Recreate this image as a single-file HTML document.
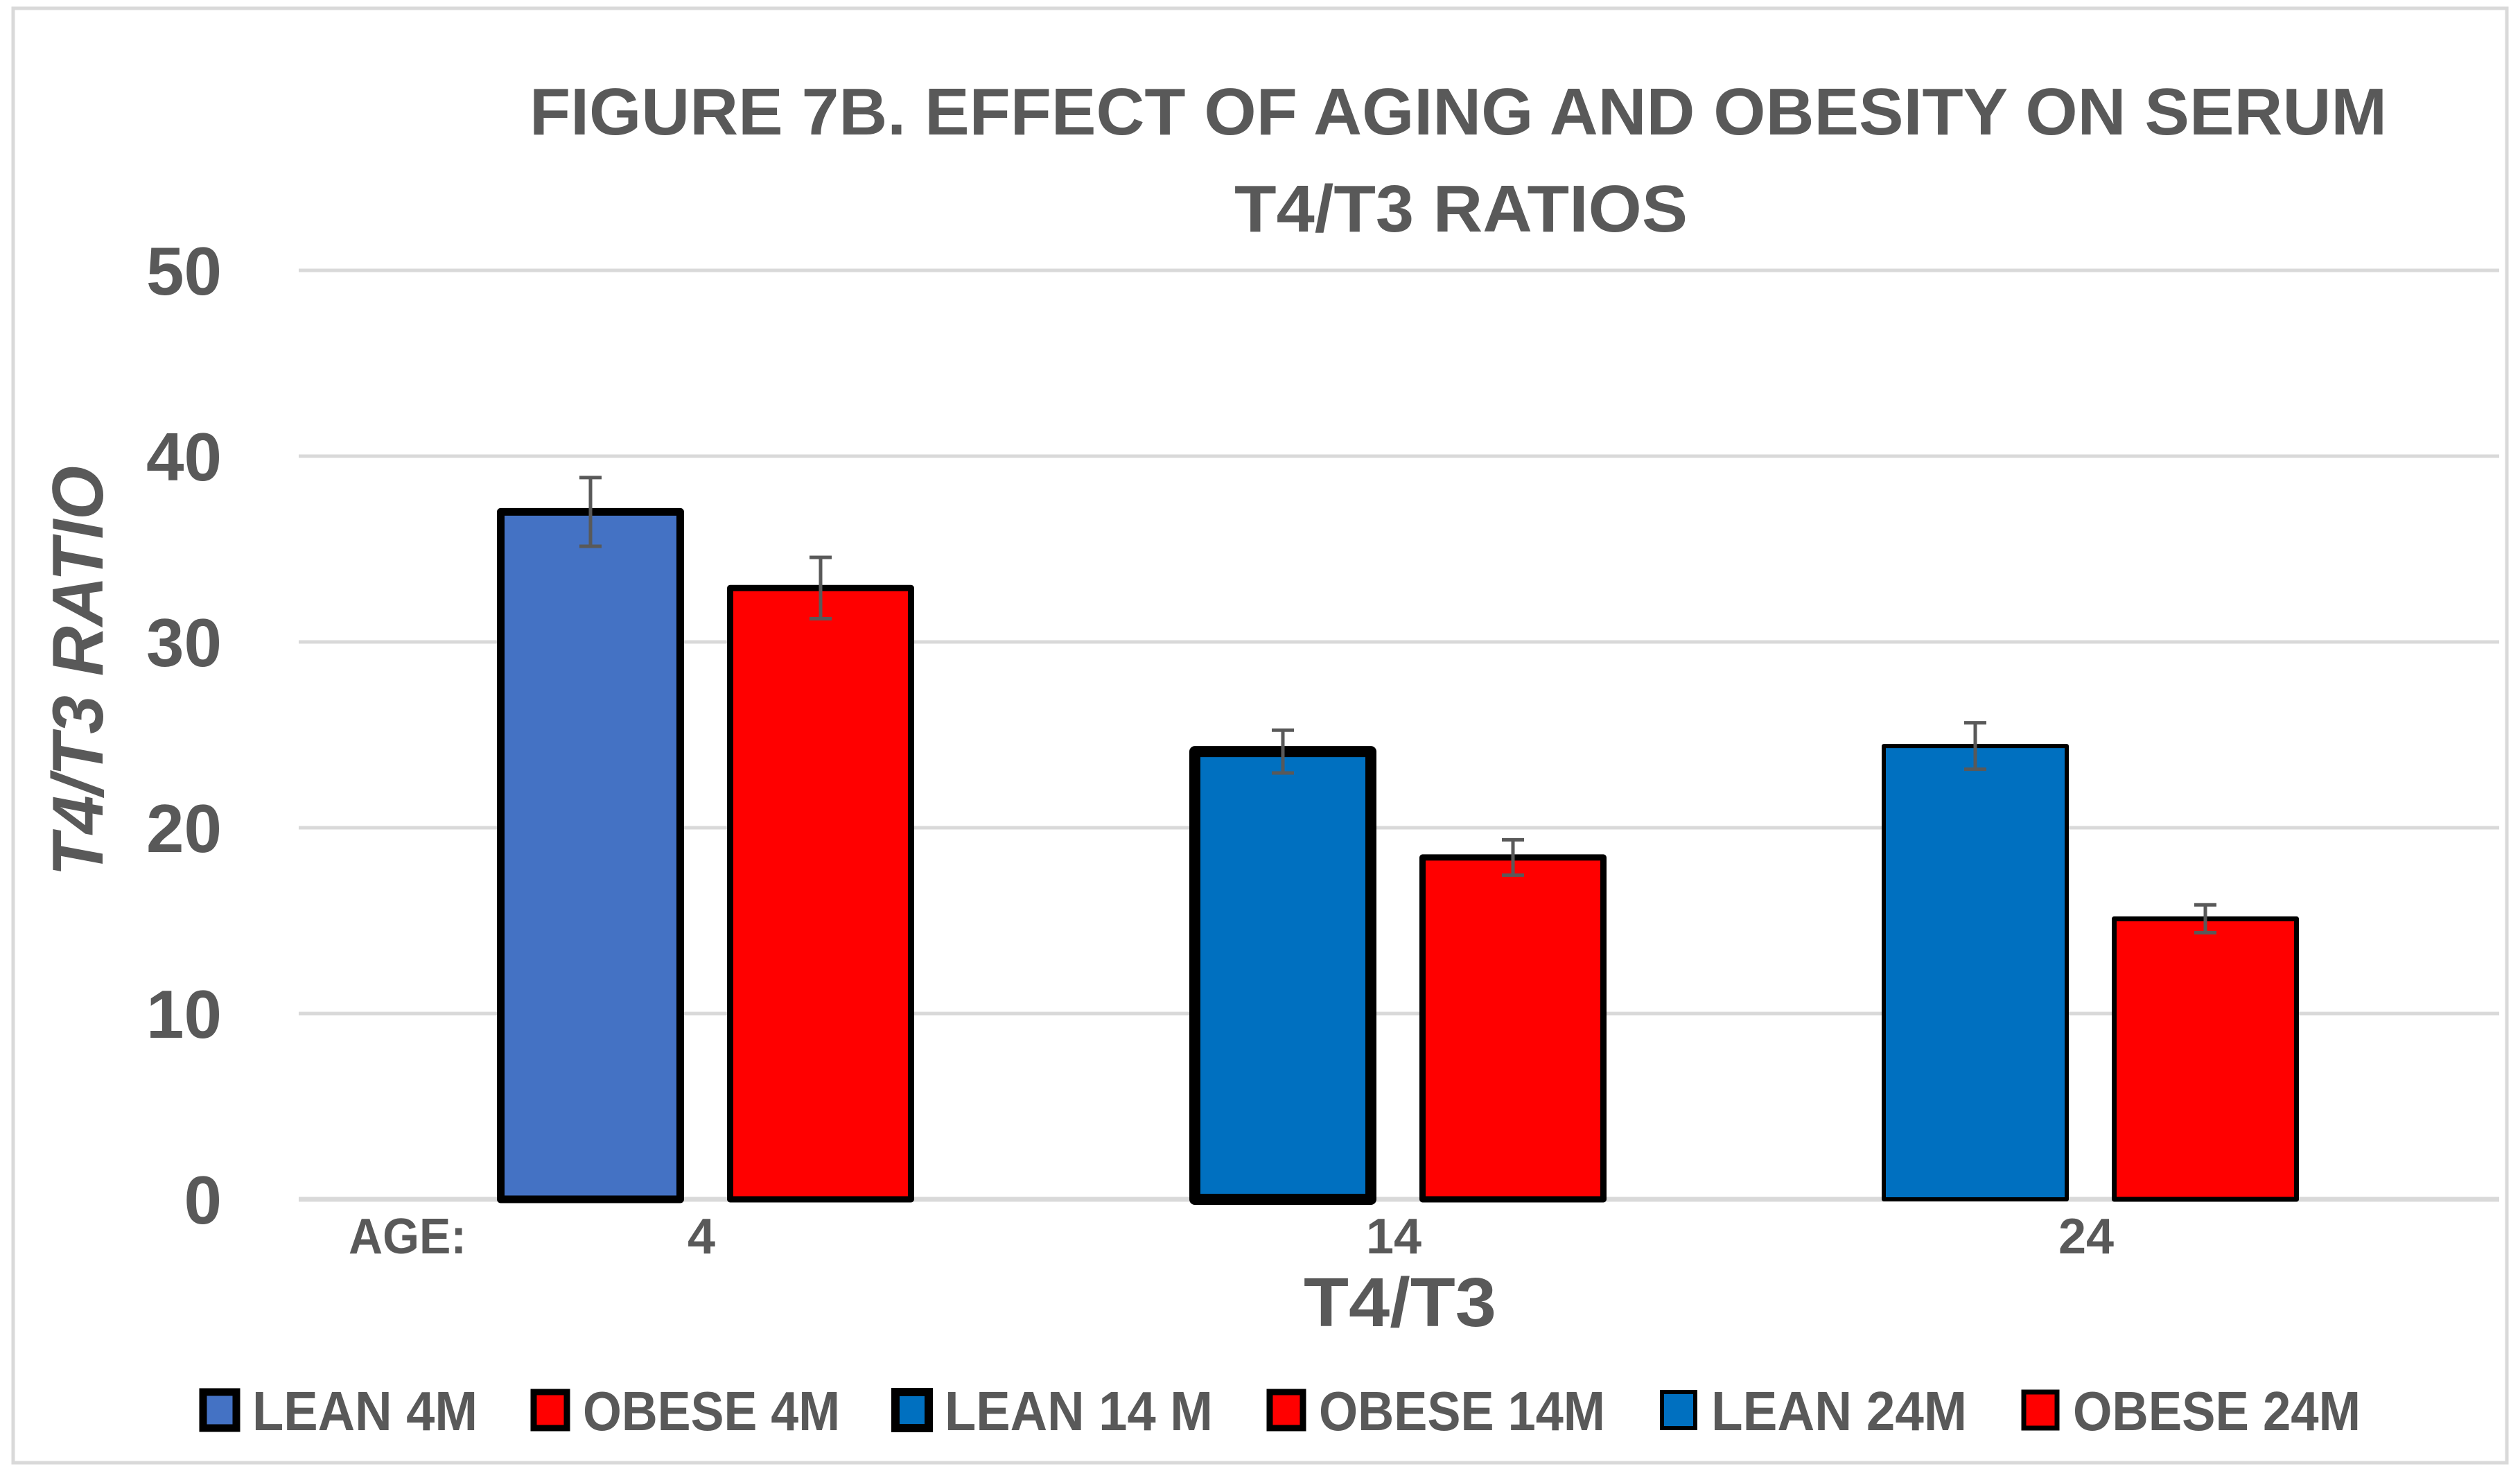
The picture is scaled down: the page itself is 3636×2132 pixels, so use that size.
<!DOCTYPE html>
<html><head><meta charset="utf-8"><style>
html,body{margin:0;padding:0;background:#fff}
svg{display:block}
text{font-family:"Liberation Sans",sans-serif;font-weight:bold;fill:#595959}
</style></head><body>
<svg id="chart" width="3636" height="2132" viewBox="0 0 3636 2132" xmlns="http://www.w3.org/2000/svg">
<rect x="19" y="12" width="3598" height="2098" fill="#fff" stroke="#d9d9d9" stroke-width="5"/>
<text x="2104" y="194" font-size="96" text-anchor="middle" textLength="2680" lengthAdjust="spacingAndGlyphs">FIGURE 7B.  EFFECT OF AGING AND OBESITY ON SERUM</text>
<text x="2108" y="334" font-size="96" text-anchor="middle" textLength="654" lengthAdjust="spacingAndGlyphs">T4/T3 RATIOS</text>
<g id="grid"></g><g id="yticks"></g><g id="bars"></g><g id="errs"></g><g id="xlabels"></g>
<text transform="translate(148,968) rotate(-90)" font-size="104" font-style="italic" text-anchor="middle" textLength="592" lengthAdjust="spacingAndGlyphs">T4/T3 RATIO</text>
<text x="503" y="1808" font-size="72" textLength="170" lengthAdjust="spacingAndGlyphs">AGE:</text>
<text x="2020" y="1913" font-size="100" text-anchor="middle" textLength="278" lengthAdjust="spacingAndGlyphs">T4/T3</text>
<g id="legend"></g>
</svg>
<script>
const categories=["4","14","24"];
const seriesNames=["LEAN 4M","OBESE 4M","LEAN 14 M","OBESE 14M","LEAN 24M","OBESE 24M"];
const values=[37.0,32.9,24.1,18.4,24.4,15.1];
const errors=[1.85,1.65,1.15,0.95,1.25,0.75];
const yTicks=[0,10,20,30,40,50];
const NS="http://www.w3.org/2000/svg";
const fills=["#4472c4","#ff0000","#0070c0","#ff0000","#0070c0","#ff0000"];
const strokes=[11,9,16,9,6,7];
const plotL=431,plotR=3606,y0=1730,y50=390;
function y(v){return y0-(v/50)*(y0-y50);}
const firstCenter=1018,catStep=999;
function cx(c){return firstCenter+catStep*c;}
const barW=270,gap=62;
function mk(tag,attrs,parent){const e=document.createElementNS(NS,tag);for(const k in attrs)e.setAttribute(k,attrs[k]);document.getElementById(parent).appendChild(e);return e;}
yTicks.forEach(t=>{
 const l=mk('line',{x1:plotL,x2:plotR,y1:y(t),y2:y(t),stroke:'#d9d9d9','stroke-width':t===0?7:5},'grid');
 
 
 const tx=mk('text',{x:320,y:y(t)+35,'font-size':98,'text-anchor':'end'},'yticks');
 tx.textContent=t;
 
 
});
values.forEach((v,i)=>{
 const c=Math.floor(i/2),s=i%2;
 const x=cx(c)+(s===0?-(gap/2+barW):gap/2);
 const sw=strokes[i];
 const r=mk('rect',{x:x+sw/2,y:y(v),width:barW-sw,height:y(0)-y(v),fill:fills[i],stroke:'#000','stroke-width':sw,'stroke-linejoin':'round'},'bars');
 
 
 const bx=x+barW/2,yt=y(v+errors[i]),yb=y(v-errors[i]);
 const g=mk('path',{d:`M${bx},${yt}V${yb}M${bx-16},${yt}H${bx+16}M${bx-16},${yb}H${bx+16}`,stroke:'#595959','stroke-width':5,fill:'none'},'errs');
 
 
});
categories.forEach((c,i)=>{
 const t=mk('text',{x:cx(i)-6,y:1808,'font-size':72,'text-anchor':'middle'},'xlabels');
 t.textContent=c;
 
 
});
const legX=[288,765,1287,1827,2393,2915];
const legTextW=[325,371,387,413,369,415];
seriesNames.forEach((n,i)=>{
 const m=mk('rect',{x:legX[i]+5,y:2008,width:48,height:52,fill:fills[i],stroke:'#000','stroke-width':Math.min(strokes[i],12)},'legend');
 
 
 const t=mk('text',{x:legX[i]+76,y:2063,'font-size':80,textLength:legTextW[i],lengthAdjust:'spacingAndGlyphs'},'legend');
 t.textContent=n;
 
 
});
</script>
</body></html>
